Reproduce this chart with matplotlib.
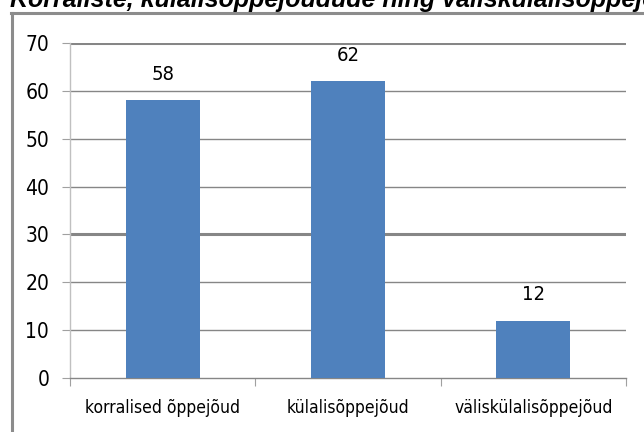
import matplotlib.pyplot as plt
from matplotlib.lines import Line2D

categories = ['korralised õppejõud', 'külalisõppejõud', 'väliskülalisõppejõud']
values = [58, 62, 12]
y_ticks = [0, 10, 20, 30, 40, 50, 60, 70]
title = 'Korraliste, külalisõppejõudude ning väliskülalisõppejõudude arv'

label_font = dict(family=['DejaVu Sans'], fontstretch='condensed')

fig = plt.figure(figsize=(6.44, 4.32), dpi=100)
ax = fig.add_axes([70 / 644, 54 / 432, 556 / 644, 335 / 432])

x = range(len(categories))
ax.bar(x, values, width=0.4, color='#4F81BD', zorder=3)

# andmesildid
for xi, v in zip(x, values):
    ax.annotate(str(v), (xi, v), xytext=(0, 12), textcoords='offset points',
                ha='center', va='bottom', fontsize=14.5, **label_font)

ax.set_xlim(-0.5, len(categories) - 0.5)
ax.set_ylim(0, 70)
ax.set_yticks(y_ticks)
ax.set_yticklabels([str(t) for t in y_ticks], fontsize=15, **label_font)

# kategooriate piirid x-teljel
ax.set_xticks([i - 0.5 for i in range(len(categories) + 1)])
ax.set_xticklabels([])
ax.set_xticks(list(x), minor=True)
ax.set_xticklabels(categories, minor=True, fontsize=12.5, **label_font)
ax.tick_params(axis='x', which='minor', length=0, pad=15)
ax.tick_params(axis='x', which='major', length=6, color='#a0a0a0', direction='out')
ax.tick_params(axis='y', length=6, color='#a0a0a0', pad=9)

# ruudustik
for t in y_ticks[1:]:
    lw = 2.2 if t in (30, 70) else 1.0
    ax.axhline(t, color='#868686', lw=lw, zorder=1)

for s in ['top', 'right']:
    ax.spines[s].set_visible(False)
ax.spines['left'].set_color('#c0c0c0')
ax.spines['left'].set_linewidth(1)
ax.spines['bottom'].set_color('#868686')
ax.spines['bottom'].set_linewidth(1)

# välimine raam
fig.add_artist(Line2D([12.5 / 644, 12.5 / 644], [0, 1 - 13 / 432],
                      transform=fig.transFigure, color='#8c8c8c', lw=2.2))
fig.add_artist(Line2D([11 / 644, 1], [1 - 13 / 432, 1 - 13 / 432],
                      transform=fig.transFigure, color='#8c8c8c', lw=2.2))

# pealkiri on originaalis üleval ja paremal servas ära lõigatud
fig.text(10 / 644, 1 - 7 / 432, title, ha='left', va='baseline',
         fontsize=18, fontweight='bold', fontstyle='italic',
         family=['Liberation Sans', 'DejaVu Sans'])

fig.savefig('out.png', dpi=100)
